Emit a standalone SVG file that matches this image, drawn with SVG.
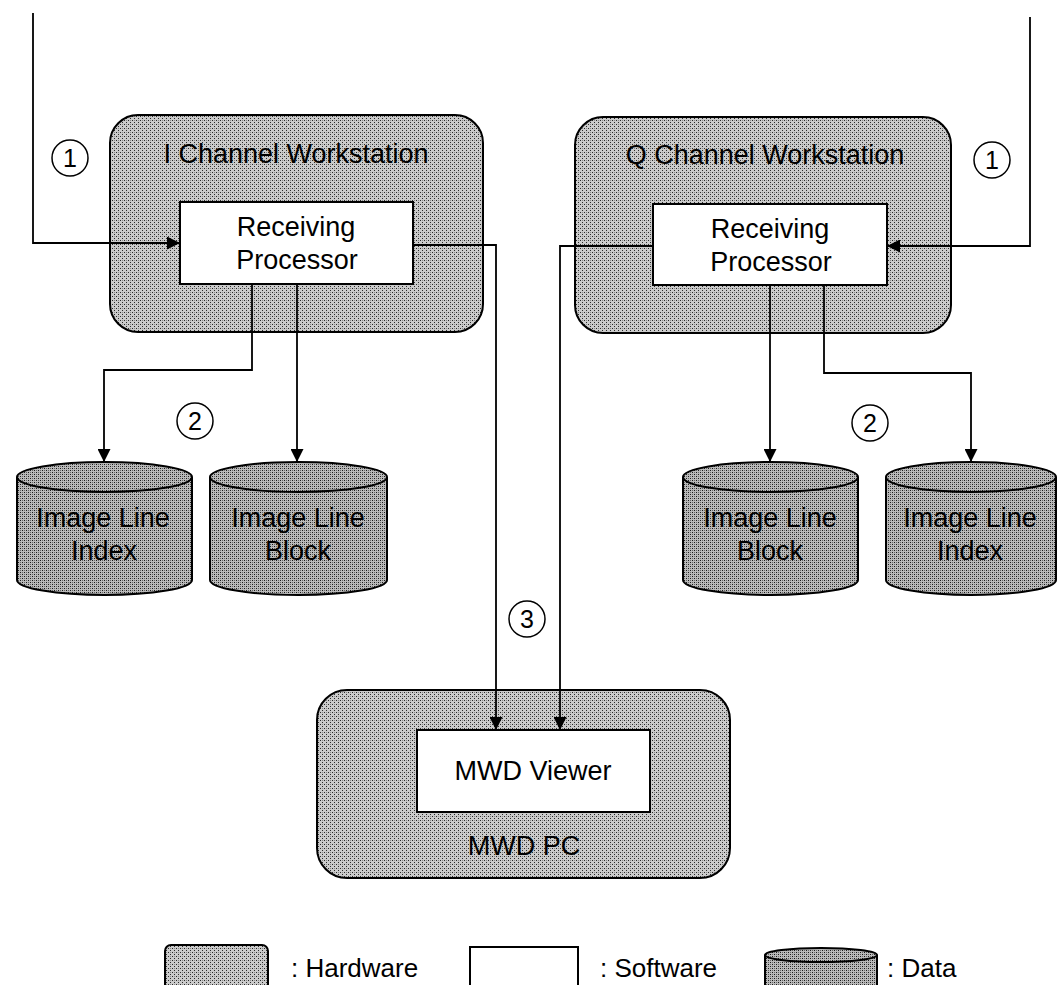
<svg xmlns="http://www.w3.org/2000/svg" width="1057" height="985" viewBox="0 0 1057 985">
<style>
text{font-family:"Liberation Sans",Arial,Helvetica,sans-serif;fill:#000;text-anchor:middle}
.lbl{font-size:27px}
.hw{fill:url(#dots);stroke:#000;stroke-width:2}
.sw{fill:#fff;stroke:#000;stroke-width:2}
.db{fill:url(#dots2);stroke:#000;stroke-width:2}
.conn{fill:none;stroke:#000;stroke-width:1.8}
.num{fill:#fff;stroke:#000;stroke-width:1.5}
.numt{font-size:25px}
.leg{font-size:26px;text-anchor:start}
</style>
<defs>
<pattern id="dots" width="4" height="4" patternUnits="userSpaceOnUse">
<rect width="4" height="4" fill="#cbcbcb"/>
<rect x="0" y="0" width="1" height="1" fill="#2a2a2a"/>
<rect x="2" y="2" width="1" height="1" fill="#2a2a2a"/>
<rect x="2" y="0" width="1" height="1" fill="#8a8a8a"/>
</pattern>
<pattern id="dots2" width="4" height="4" patternUnits="userSpaceOnUse">
<rect width="4" height="4" fill="#bababa"/>
<rect x="0" y="0" width="1" height="1" fill="#1a1a1a"/>
<rect x="2" y="2" width="1" height="1" fill="#1a1a1a"/>
<rect x="2" y="0" width="1" height="1" fill="#666"/>
<rect x="0" y="2" width="1" height="1" fill="#666"/>
</pattern>
<marker id="arr" viewBox="0 0 12 12" refX="12" refY="6" markerWidth="13" markerHeight="13" markerUnits="userSpaceOnUse" orient="auto">
<path d="M0,0 L12,6 L0,12 z" fill="#000"/>
</marker>
</defs>

<g id="i-channel-workstation">
<rect class="hw" x="110" y="115" width="373" height="217" rx="28"/>
<text class="lbl" x="296" y="163">I Channel Workstation</text>
</g>
<g id="i-receiving-processor">
<rect class="sw" x="180" y="202" width="233" height="82"/>
<text class="lbl" x="296" y="236">Receiving</text>
<text class="lbl" x="297" y="269">Processor</text>
</g>

<g id="q-channel-workstation">
<rect class="hw" x="575" y="117" width="376" height="216" rx="28"/>
<text class="lbl" x="765" y="164">Q Channel Workstation</text>
</g>
<g id="q-receiving-processor">
<rect class="sw" x="653" y="204" width="234" height="81"/>
<text class="lbl" x="770" y="238">Receiving</text>
<text class="lbl" x="771" y="271">Processor</text>
</g>

<g id="i-image-line-index">
<path class="db" d="M17,477 L17,580 A87.5,15 0 0 0 192,580 L192,477"/>
<ellipse class="db" cx="104.5" cy="477" rx="87.5" ry="15"/>
<text class="lbl" x="103" y="527">Image Line</text>
<text class="lbl" x="104" y="560">Index</text>
</g>
<g id="i-image-line-block">
<path class="db" d="M210,477 L210,580 A88.5,15 0 0 0 387,580 L387,477"/>
<ellipse class="db" cx="298.5" cy="477" rx="88.5" ry="15"/>
<text class="lbl" x="298" y="527">Image Line</text>
<text class="lbl" x="298" y="560">Block</text>
</g>
<g id="q-image-line-block">
<path class="db" d="M683,477 L683,580 A87.5,15 0 0 0 858,580 L858,477"/>
<ellipse class="db" cx="770.5" cy="477" rx="87.5" ry="15"/>
<text class="lbl" x="770" y="527">Image Line</text>
<text class="lbl" x="770" y="560">Block</text>
</g>
<g id="q-image-line-index">
<path class="db" d="M886,477 L886,580 A85,15 0 0 0 1056,580 L1056,477"/>
<ellipse class="db" cx="971" cy="477" rx="85" ry="15"/>
<text class="lbl" x="970" y="527">Image Line</text>
<text class="lbl" x="970" y="560">Index</text>
</g>

<g id="mwd-pc">
<rect class="hw" x="317" y="690" width="413" height="188" rx="30"/>
<text class="lbl" x="524" y="855">MWD PC</text>
</g>
<g id="mwd-viewer">
<rect class="sw" x="417" y="730" width="233" height="82"/>
<text class="lbl" x="533" y="780">MWD Viewer</text>
</g>

<g id="connectors">
<polyline class="conn" points="33,13 33,243 180,243" marker-end="url(#arr)"/>
<polyline class="conn" points="1030,17 1030,246 887,246" marker-end="url(#arr)"/>
<polyline class="conn" points="252,284 252,370 104,370 104,462" marker-end="url(#arr)"/>
<polyline class="conn" points="297,284 297,462" marker-end="url(#arr)"/>
<polyline class="conn" points="770,285 770,462" marker-end="url(#arr)"/>
<polyline class="conn" points="824,285 824,373 971,373 971,462" marker-end="url(#arr)"/>
<polyline class="conn" points="413,245 496,245 496,730" marker-end="url(#arr)"/>
<polyline class="conn" points="653,246 560,246 560,730" marker-end="url(#arr)"/>
</g>

<g id="step-labels">
<circle class="num" cx="70" cy="158" r="18"/>
<text class="numt" x="70" y="167">1</text>
<circle class="num" cx="992" cy="160" r="18"/>
<text class="numt" x="992" y="169">1</text>
<circle class="num" cx="195" cy="421" r="18"/>
<text class="numt" x="195" y="430">2</text>
<circle class="num" cx="870" cy="423" r="18"/>
<text class="numt" x="870" y="432">2</text>
<circle class="num" cx="527" cy="619" r="18"/>
<text class="numt" x="527" y="628">3</text>
</g>

<g id="legend">
<rect class="hw" x="165" y="945" width="103" height="50" rx="6"/>
<text class="leg" x="291" y="977">: Hardware</text>
<rect class="sw" x="470" y="947" width="108" height="50"/>
<text class="leg" x="600" y="977">: Software</text>
<path class="db" d="M765,955 L765,995 L877,995 L877,955"/>
<ellipse class="db" cx="821" cy="955" rx="56" ry="7"/>
<text class="leg" x="887" y="977">: Data</text>
</g>
</svg>
